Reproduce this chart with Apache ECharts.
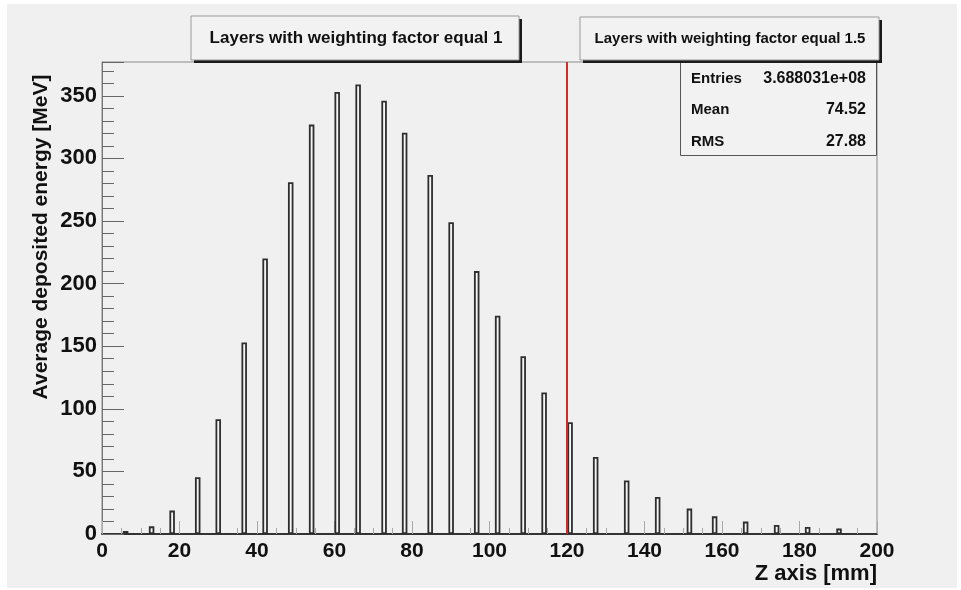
<!DOCTYPE html>
<html>
<head>
<meta charset="utf-8">
<script src="https://cdn.jsdelivr.net/npm/echarts@6/dist/echarts.min.js"></script>
<style>
html,body{margin:0;padding:0;background:#ffffff;}
#chart{width:961px;height:590px;}
</style>
</head>
<body>
<div id="chart"></div>
<script>
// ---- data ----
const zPositions = [6.1, 12.8, 18.1, 24.7, 30.0, 36.7, 42.1, 48.7, 54.1, 60.7, 66.1, 72.8, 78.1, 84.7, 90.1, 96.7, 102.1, 108.7, 114.1, 120.8, 127.4, 135.4, 143.4, 151.6, 158.1, 166.1, 174.1, 182.1, 190.2];
const energies   = [2.4, 6.1, 18.7, 45.3, 91.7, 153, 220, 281, 327, 353, 359, 346, 320.5, 286.7, 249, 210, 174.4, 142, 113, 89.3, 61.6, 42.7, 29.6, 20.3, 14.1, 9.9, 7.2, 5.6, 4.3];
const boundaryZ = [120];
const xAxisTitle = 'Z axis [mm]';
const yAxisTitle = 'Average deposited energy [MeV]';
const boxTitles = ['Layers with weighting factor equal 1', 'Layers with weighting factor equal 1.5'];
const statsLabels = ['Entries', 'Mean', 'RMS'];
const statsValues = ['3.688031e+08', '74.52', '27.88'];

const FONT = '"Liberation Sans", Arial, Helvetica, sans-serif';
const chart = echarts.init(document.getElementById('chart'), null, {renderer: 'canvas'});

const barData = zPositions.map((z, i) => [z, energies[i]]);

function txt(x, y, text, size, align, extra) {
  return Object.assign({
    type: 'text', x: x, y: y, z: 100,
    style: {text: text, font: 'bold ' + size + 'px ' + FONT, fill: '#111',
            textAlign: align, textVerticalAlign: 'middle'}
  }, extra || {});
}

const graphics = [
  {type: 'rect', z: -100, shape: {x: 7, y: 4, width: 950, height: 584}, style: {fill: '#f0f0f0'}},
  // title box 1
  {type: 'rect', z: 90, shape: {x: 194, y: 19, width: 328, height: 44}, style: {fill: '#1a1a1a'}},
  {type: 'rect', z: 91, shape: {x: 191, y: 16, width: 328, height: 44}, style: {fill: '#f2f2f2', stroke: '#9a9a9a', lineWidth: 1}},
  txt(356, 38, boxTitles[0], 17, 'center'),
  // title box 2
  {type: 'rect', z: 90, shape: {x: 583, y: 20, width: 299, height: 43}, style: {fill: '#1a1a1a'}},
  {type: 'rect', z: 91, shape: {x: 580, y: 17, width: 299, height: 43}, style: {fill: '#f2f2f2', stroke: '#9a9a9a', lineWidth: 1}},
  txt(730, 39, boxTitles[1], 15, 'center'),
  // stats box
  {type: 'rect', z: 80, shape: {x: 680.5, y: 62.5, width: 196, height: 93}, style: {fill: '#f2f2f2', stroke: '#555', lineWidth: 1}},
  // axis titles
  txt(41, 237, yAxisTitle, 21, 'center', {rotation: Math.PI / 2}),
  txt(877, 574, xAxisTitle, 22, 'right')
];
const statsY = [79, 110, 142];
statsLabels.forEach((l, i) => {
  graphics.push(txt(691, statsY[i], l, 15, 'left'));
  graphics.push(txt(866, statsY[i], statsValues[i], 16, 'right'));
});

const option = {
  animation: false,
  backgroundColor: '#ffffff',
  grid: {left: 102, right: 84, top: 62, bottom: 56, show: true, borderColor: '#8a8a8a', borderWidth: 1, backgroundColor: 'transparent'},
  xAxis: {
    type: 'value', min: 0, max: 200, interval: 20,
    axisLine: {show: true, onZero: false, lineStyle: {color: '#333', width: 2}},
    axisTick: {show: true, inside: true, length: 13, lineStyle: {color: '#a8a8a8', width: 1}},
    minorTick: {show: true, splitNumber: 4, length: 6, lineStyle: {color: '#a8a8a8', width: 1}},
    splitLine: {show: false},
    axisLabel: {margin: 7, fontFamily: FONT, fontWeight: 'bold', fontSize: 21, color: '#111'}
  },
  yAxis: [{
    type: 'value', min: 0, max: 377, interval: 50,
    axisLine: {show: true, lineStyle: {color: '#777', width: 1}},
    axisTick: {show: true, inside: true, length: 22, lineStyle: {color: '#666', width: 1}},
    splitLine: {show: false},
    axisLabel: {margin: 5, fontFamily: FONT, fontWeight: 'bold', fontSize: 22, color: '#111',
      formatter: v => (v % 50 === 0 ? String(v) : '')}
  }, {
    type: 'value', min: 0, max: 377, interval: 10, position: 'left',
    axisLine: {show: false},
    axisTick: {show: true, inside: true, length: 12, lineStyle: {color: '#666', width: 1}},
    splitLine: {show: false},
    axisLabel: {show: false}
  }],
  series: [{
    type: 'bar',
    yAxisIndex: 0,
    data: barData,
    barWidth: 5.5,
    itemStyle: {color: '#f6f6f6', borderColor: '#2e2e2e', borderWidth: 1.8},
    markLine: {
      silent: true, symbol: 'none', label: {show: false},
      lineStyle: {color: '#d42a2a', width: 2, type: 'solid'},
      data: boundaryZ.map(v => ({xAxis: v}))
    }
  }],
  graphic: {elements: graphics}
};
chart.setOption(option);
</script>
</body>
</html>
